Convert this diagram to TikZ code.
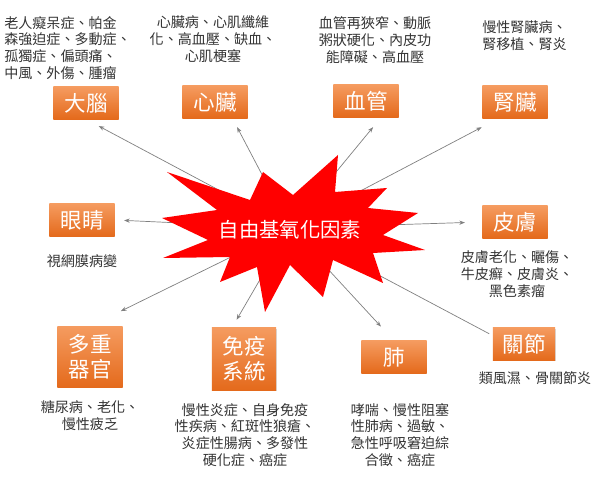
\documentclass[tikz,border=0pt]{standalone}
\usepackage{fontspec}
\setmainfont{Noto Sans CJK TC}
\usetikzlibrary{arrows.meta,shadows}
\definecolor{orgtop}{RGB}{245,155,95}
\definecolor{orgbot}{RGB}{228,106,28}
\begin{document}
\begin{tikzpicture}[x=0.025cm,y=-0.025cm,
  every node/.style={font=\fontsize{10}{12}\selectfont,text=black!80},
  organ/.style={minimum width=1.63cm,minimum height=0.8cm,inner sep=0pt,top color=orgtop,bottom color=orgbot,text=white,font=\fontsize{15.3}{17.8}\selectfont,drop shadow={shadow xshift=.5pt,shadow yshift=-.7pt,opacity=.3}},
  note/.style={align=center,inner sep=0pt},
  link/.style={draw=black!50,line width=.5pt,-{Stealth[length=4pt,width=3pt]}}]
\useasboundingbox (0,0) rectangle (600,504);
\node[organ] (brain) at (86,103) {大腦};
\node[organ] (heart) at (215,102) {心臟};
\node[organ] (vessel) at (366,101) {血管};
\node[organ] (kidney) at (515,102) {腎臟};
\node[organ] (eye) at (82,220) {眼睛};
\node[organ] (skin) at (515,222) {皮膚};
\node[organ,align=center,minimum height=1.52cm] (organs) at (90,357) {多重\\器官};
\node[organ,align=center,minimum height=1.55cm,minimum width=1.6cm] (immune) at (244,359) {免疫\\系統};
\node[organ] (lung) at (394,357) {肺};
\node[organ,minimum width=1.55cm] (joint) at (524,344) {關節};
\node[note,anchor=west,align=left] (brainnote) at (4,48) {老人癡呆症、帕金\\森強迫症、多動症、\\孤獨症、偏頭痛、\\中風、外傷、腫瘤};
\node[note] (heartnote) at (213,39) {心臟病、心肌纖維\\化、高血壓、缺血、\\心肌梗塞};
\node[note] (vesselnote) at (375,40) {血管再狹窄、動脈\\粥狀硬化、內皮功\\能障礙、高血壓};
\node[note,anchor=west,align=left] (kidneynote) at (482,36) {慢性腎臟病、\\腎移植、腎炎};
\node[note] (eyenote) at (82,261) {視網膜病變};
\node[note] (skinnote) at (517,274) {皮膚老化、曬傷、\\牛皮癬、皮膚炎、\\黑色素瘤};
\node[note] (organsnote) at (90,416) {糖尿病、老化、\\慢性疲乏};
\node[note] (immunenote) at (245,435) {慢性炎症、自身免疫\\性疾病、紅斑性狼瘡、\\炎症性腸病、多發性\\硬化症、癌症};
\node[note] (lungnote) at (400,435) {哮喘、慢性阻塞\\性肺病、過敏、\\急性呼吸窘迫綜\\合徵、癌症};
\node[note] (jointnote) at (535,378) {類風濕、骨關節炎};
\coordinate (hub) at (290,228);
\draw[link,shorten >=0.36cm] (hub) -- (brain.south);
\draw[link,shorten >=0.25cm] (hub) -- (heart.-43);
\draw[link,shorten >=0.32cm] (hub) -- (vessel.-47);
\draw[link,shorten >=0.48cm] (hub) -- (kidney.-135);
\draw[link,shorten >=0.23cm] (hub) -- (eye.east);
\draw[link,shorten >=0.43cm] (hub) -- (skin.west);
\draw[link,shorten >=0.86cm] (hub) -- (organs.north);
\draw[link,shorten >=0.23cm] (hub) -- (immune.111);
\draw[link,shorten >=0.48cm] (hub) -- (lung.north);
\draw[link,-,shorten >=0.1cm] (hub) -- (joint.165);
\fill[red] (167,172) -- (250,200) -- (263,172) -- (293,195) -- (338,155) -- (335,192) -- (387,188) -- (368,208) -- (418,213) -- (383,235) -- (425,250) -- (373,253) -- (383,283) -- (333,260) -- (323,297) -- (290,265) -- (265,312) -- (257,267) -- (220,282) -- (230,257) -- (163,258) -- (208,240) -- (162,218) -- (217,210) -- cycle;
\node[text=white,font=\fontsize{14.5}{16}\selectfont] (core) at (290,230) {自由基氧化因素};
\end{tikzpicture}
\end{document}
